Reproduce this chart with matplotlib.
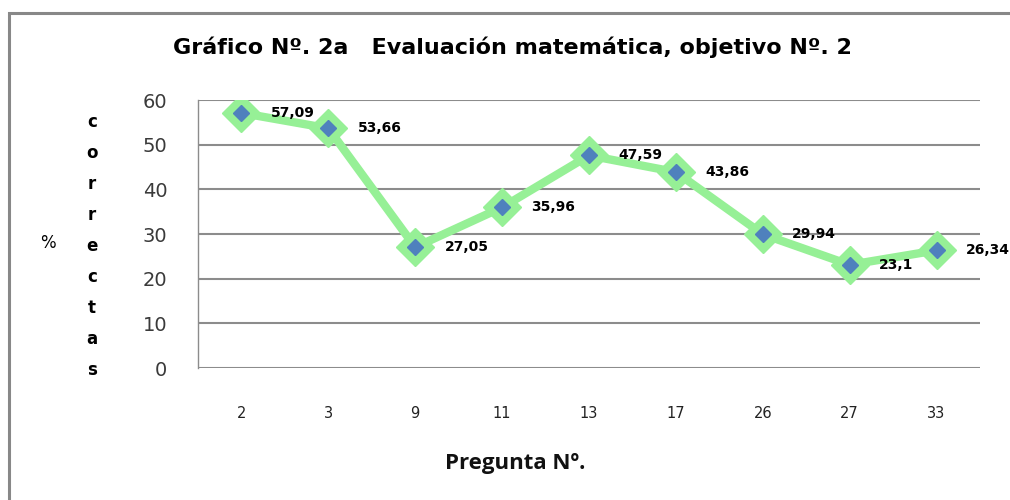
import matplotlib
matplotlib.use('Agg')
import matplotlib.pyplot as plt
from matplotlib.patches import Rectangle

preguntas = ['2', '3', '9', '11', '13', '17', '26', '27', '33']
correctas = [57.09, 53.66, 27.05, 35.96, 47.59, 43.86, 29.94, 23.1, 26.34]
yticks = [0, 10, 20, 30, 40, 50, 60]

LINE_GREEN = '#96f096'
MARK_BLUE = '#4f81bd'
GRID = '#8c8c8c'


def fmt(v):
    return ('%g' % v).replace('.', ',')


def PlotData():
    fig = plt.figure(figsize=(10.1, 5.0), dpi=100)
    fig.patch.set_facecolor('white')

    # marco exterior del grafico
    fig.patches.append(Rectangle((9 / 1010, -0.1), 1.2, 1 - 12.5 / 500 + 0.1,
                                 transform=fig.transFigure, fill=False,
                                 edgecolor='#888888', linewidth=2.2))

    ax = fig.add_axes([198 / 1010, 1 - 368 / 500, (980 - 198) / 1010, (368 - 100) / 500])
    x = list(range(len(preguntas)))
    ax.set_xlim(-0.5, len(preguntas) - 0.5)
    ax.set_ylim(0, 60)
    ax.set_yticks(yticks)
    ax.set_xticks(x)
    ax.set_xticklabels(preguntas, fontsize=10.5, color='#222222')
    ax.set_yticklabels([str(t) for t in yticks], fontsize=14, color='#3a3a3a',
                       family='DejaVu Sans')
    ax.tick_params(axis='y', length=0, pad=22)
    ax.tick_params(axis='x', length=0, pad=27)
    for s in ['top', 'right', 'bottom']:
        ax.spines[s].set_visible(False)
    ax.spines['left'].set_color(GRID)
    ax.spines['left'].set_linewidth(1.0)
    ax.yaxis.grid(True, color=GRID, linewidth=1.5)
    ax.set_axisbelow(True)

    ax.plot(x, correctas, '-', color=LINE_GREEN, linewidth=6, zorder=3,
            solid_joinstyle='round')
    ax.plot(x, correctas, 'D', markersize=19, markerfacecolor=LINE_GREEN,
            markeredgecolor=LINE_GREEN, zorder=4)
    ax.plot(x, correctas, 'D', markersize=8, markerfacecolor=MARK_BLUE,
            markeredgecolor=MARK_BLUE, zorder=5)

    for xi, v in zip(x, correctas):
        ax.annotate(fmt(v), (xi, v), xytext=(21, 0), textcoords='offset points',
                    ha='left', va='center', fontsize=10, fontweight='bold',
                    color='black', zorder=6, annotation_clip=False)

    fig.text(512 / 1010, 1 - 47 / 500,
             'Gráfico Nº. 2a   Evaluación matemática, objetivo Nº. 2',
             ha='center', va='center', fontsize=16, fontweight='bold',
             family=['Liberation Sans Narrow', 'DejaVu Sans'])
    fig.text(515 / 1010, 1 - 463 / 500, 'Pregunta Nº.', ha='center', va='center',
             fontsize=16, fontweight='bold', family=['Open Sans', 'DejaVu Sans'],
             color='#111111')

    fig.text(48 / 1010, 1 - 243 / 500, '%', ha='center', va='center', fontsize=12)
    for i, ch in enumerate('correctas'):
        fig.text(92 / 1010, 1 - (122 + i * 31) / 500, ch, ha='center', va='center',
                 fontsize=12, fontweight='bold')

    plt.savefig('out.png', dpi=100)


if __name__ == '__main__':
    PlotData()
